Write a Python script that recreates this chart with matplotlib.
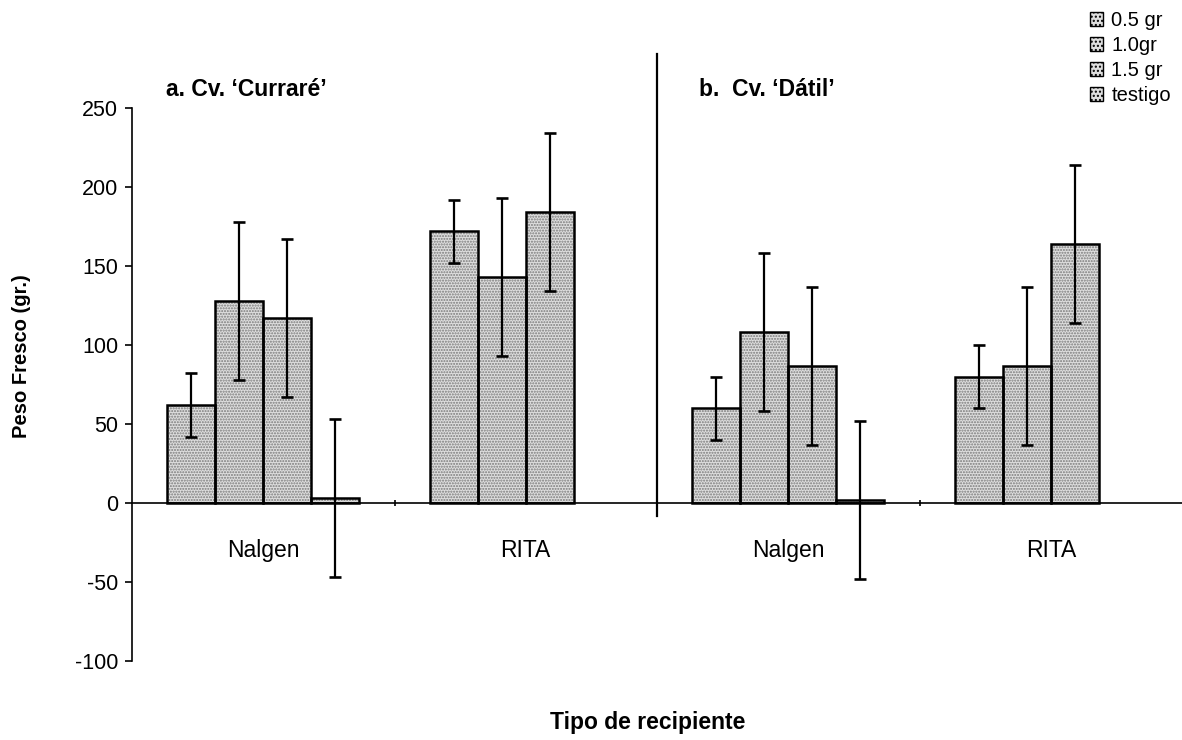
import numpy as np
import matplotlib
matplotlib.use("Agg")
import matplotlib.pyplot as plt
from matplotlib.patches import Patch

plt.rcParams['font.family'] = ['Liberation Sans', 'DejaVu Sans']

# Data: fresh weight by container type and dose, two cultivars
categories = ["Nalgen", "RITA", "Nalgen", "RITA"]
series_names = ["0.5 gr", "1.0gr", "1.5 gr", "testigo"]
means = {
    "0.5 gr":  [62, 172, 60, 80],
    "1.0gr":   [128, 143, 108, 87],
    "1.5 gr":  [117, 184, 87, 164],
    "testigo": [3, 0, 2, 0],
}
errors = {
    "0.5 gr":  [20, 20, 20, 20],
    "1.0gr":   [50, 50, 50, 50],
    "1.5 gr":  [50, 50, 50, 50],
    "testigo": [50, 0, 50, 0],
}
panel_titles = ["a. Cv. \u2018Curraré\u2019", "b.  Cv. \u2018Dátil\u2019"]
yticks = [-100, -50, 0, 50, 100, 150, 200, 250]

W, H = 1182, 740
fig = plt.figure(figsize=(W / 100, H / 100), dpi=100)
ax = fig.add_axes([132 / W, 1 - 661 / H, (W - 132) / W, (661 - 108) / H])

x = np.arange(len(categories)) + 0.5
bw = 0.183
n = len(series_names)
fill = "#dedede"
dots = "#7a7a7a"

for i, name in enumerate(series_names):
    pos = x + (i - (n - 1) / 2) * bw
    vals = np.array(means[name], dtype=float)
    errs = np.array(errors[name], dtype=float)
    show = vals > 0
    # stippled fill
    ax.bar(pos[show], vals[show], width=bw, color=fill, edgecolor=dots,
           hatch="......", linewidth=0, zorder=2)
    # outline
    ax.bar(pos[show], vals[show], width=bw, facecolor="none",
           edgecolor="black", linewidth=1.8, zorder=3)
    has_err = errs > 0
    ax.errorbar(pos[has_err], vals[has_err], yerr=errs[has_err], fmt="none",
                ecolor="black", elinewidth=1.6, capsize=4.5, capthick=1.9,
                zorder=4)

ax.set_xlim(0, len(categories))
ax.set_ylim(-100, 250)
ax.set_yticks(yticks)
ax.set_yticklabels([str(v) for v in yticks])

ax.spines["top"].set_visible(False)
ax.spines["right"].set_visible(False)
ax.spines["bottom"].set_position(("data", 0))
ax.spines["left"].set_linewidth(1.2)
ax.spines["bottom"].set_linewidth(1.2)

ax.set_xticks(x)
ax.set_xticklabels(categories)
ax.set_xticks(np.arange(1, len(categories)), minor=True)
ax.tick_params(axis="x", which="major", length=0, labelsize=16.5, pad=26)
ax.tick_params(axis="x", which="minor", length=5, width=1.2, direction="inout")
ax.tick_params(axis="y", length=5, width=1.2, labelsize=15.5, pad=5)

# divider between the two cultivars
ax.plot([2, 2], [284, -8], color="black", linewidth=1.6, clip_on=False, zorder=5)

ax.text(0.13, 262, panel_titles[0], fontsize=16.5, fontweight="bold",
        ha="left", va="center")
ax.text(2.16, 262, panel_titles[1], fontsize=16.5, fontweight="bold",
        ha="left", va="center")

fig.text(22 / W, 1 - 356 / H, "Peso Fresco (gr.)", rotation=90,
         fontsize=14.5, fontweight="bold", ha="center", va="center")
fig.text(648 / W, 1 - 722 / H, "Tipo de recipiente", fontsize=16.5,
         fontweight="bold", ha="center", va="center")

handles = [Patch(facecolor=fill, edgecolor="black", hatch="....",
                 linewidth=1.0) for _ in series_names]
fig.legend(handles, series_names, loc="upper right",
           bbox_to_anchor=(1.0, 1.0), frameon=False, fontsize=14.5,
           handlelength=0.65, handleheight=0.65, handletextpad=0.4,
           labelspacing=0.3, borderaxespad=0.15)

fig.savefig("out.png", dpi=100)
